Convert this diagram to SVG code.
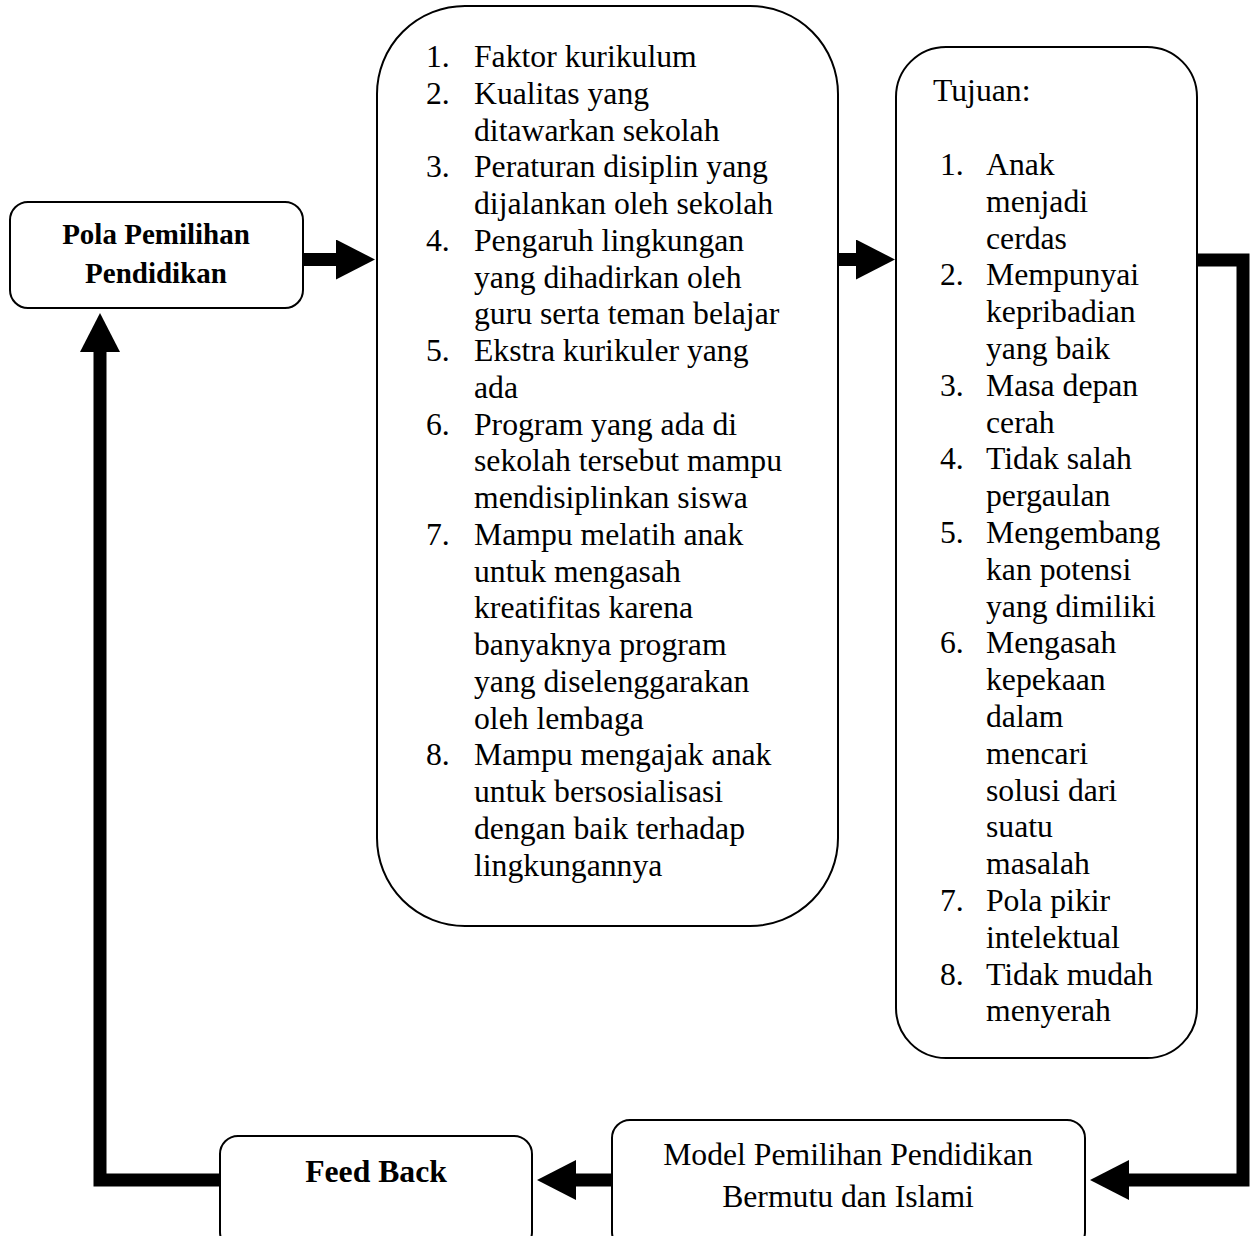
<svg xmlns="http://www.w3.org/2000/svg" width="1257" height="1236" viewBox="0 0 1257 1236">
<style>
.box{fill:#fff;stroke:#000;stroke-width:2}
.t{font-family:"Liberation Serif","Times New Roman",serif;font-size:31.7px;fill:#000}
.b{font-weight:bold}
.c{text-anchor:middle}
.conn{fill:none;stroke:#000;stroke-width:13;stroke-linejoin:miter}
</style>
<defs>
<marker id="ah" viewBox="0 0 39 40" refX="2" refY="20" markerWidth="39" markerHeight="40" markerUnits="userSpaceOnUse" orient="auto">
<path d="M0,0 L39,20 L0,40 z" fill="#000"/>
</marker>
</defs>
<rect width="1257" height="1236" fill="#fff"/>
<g id="connectors">
<path class="conn" d="M303,259.5 H338" marker-end="url(#ah)"/>
<path class="conn" d="M838,259.5 H858" marker-end="url(#ah)"/>
<path class="conn" d="M1197,260 H1243 V1180 H1127" marker-end="url(#ah)"/>
<path class="conn" d="M612,1180 H574" marker-end="url(#ah)"/>
<path class="conn" d="M220,1180 H100 V350" marker-end="url(#ah)"/>
</g>
<g id="pola">
<rect class="box" x="10" y="202" width="293" height="106" rx="18"/>
<text class="t b c" x="156" y="244" style="font-size:29px">Pola Pemilihan</text>
<text class="t b c" x="156" y="283" style="font-size:29px">Pendidikan</text>
</g>
<g id="faktor">
<rect class="box" x="377" y="6" width="461" height="920" rx="88"/>
<text class="t">
<tspan x="426" y="67">1.</tspan><tspan x="474" y="67">Faktor kurikulum</tspan>
<tspan x="426" y="103.75">2.</tspan><tspan x="474" y="103.75">Kualitas yang</tspan>
<tspan x="474" y="140.5">ditawarkan sekolah</tspan>
<tspan x="426" y="177.25">3.</tspan><tspan x="474" y="177.25">Peraturan disiplin yang</tspan>
<tspan x="474" y="214">dijalankan oleh sekolah</tspan>
<tspan x="426" y="250.75">4.</tspan><tspan x="474" y="250.75">Pengaruh lingkungan</tspan>
<tspan x="474" y="287.5">yang dihadirkan oleh</tspan>
<tspan x="474" y="324.25">guru serta teman belajar</tspan>
<tspan x="426" y="361">5.</tspan><tspan x="474" y="361">Ekstra kurikuler yang</tspan>
<tspan x="474" y="397.75">ada</tspan>
<tspan x="426" y="434.5">6.</tspan><tspan x="474" y="434.5">Program yang ada di</tspan>
<tspan x="474" y="471.25">sekolah tersebut mampu</tspan>
<tspan x="474" y="508">mendisiplinkan siswa</tspan>
<tspan x="426" y="544.75">7.</tspan><tspan x="474" y="544.75">Mampu melatih anak</tspan>
<tspan x="474" y="581.5">untuk mengasah</tspan>
<tspan x="474" y="618.25">kreatifitas karena</tspan>
<tspan x="474" y="655">banyaknya program</tspan>
<tspan x="474" y="691.75">yang diselenggarakan</tspan>
<tspan x="474" y="728.5">oleh lembaga</tspan>
<tspan x="426" y="765.25">8.</tspan><tspan x="474" y="765.25">Mampu mengajak anak</tspan>
<tspan x="474" y="802">untuk bersosialisasi</tspan>
<tspan x="474" y="838.75">dengan baik terhadap</tspan>
<tspan x="474" y="875.5">lingkungannya</tspan>
</text>
</g>
<g id="tujuan">
<rect class="box" x="896" y="47" width="301" height="1011" rx="50"/>
<text class="t">
<tspan x="933" y="101">Tujuan:</tspan>
<tspan x="940" y="175">1.</tspan><tspan x="986" y="175">Anak</tspan>
<tspan x="986" y="211.8">menjadi</tspan>
<tspan x="986" y="248.6">cerdas</tspan>
<tspan x="940" y="285.4">2.</tspan><tspan x="986" y="285.4">Mempunyai</tspan>
<tspan x="986" y="322.2">kepribadian</tspan>
<tspan x="986" y="359">yang baik</tspan>
<tspan x="940" y="395.8">3.</tspan><tspan x="986" y="395.8">Masa depan</tspan>
<tspan x="986" y="432.6">cerah</tspan>
<tspan x="940" y="469.4">4.</tspan><tspan x="986" y="469.4">Tidak salah</tspan>
<tspan x="986" y="506.2">pergaulan</tspan>
<tspan x="940" y="543">5.</tspan><tspan x="986" y="543">Mengembang</tspan>
<tspan x="986" y="579.8">kan potensi</tspan>
<tspan x="986" y="616.6">yang dimiliki</tspan>
<tspan x="940" y="653.4">6.</tspan><tspan x="986" y="653.4">Mengasah</tspan>
<tspan x="986" y="690.2">kepekaan</tspan>
<tspan x="986" y="727">dalam</tspan>
<tspan x="986" y="763.8">mencari</tspan>
<tspan x="986" y="800.6">solusi dari</tspan>
<tspan x="986" y="837.4">suatu</tspan>
<tspan x="986" y="874.2">masalah</tspan>
<tspan x="940" y="911">7.</tspan><tspan x="986" y="911">Pola pikir</tspan>
<tspan x="986" y="947.8">intelektual</tspan>
<tspan x="940" y="984.6">8.</tspan><tspan x="986" y="984.6">Tidak mudah</tspan>
<tspan x="986" y="1021.4">menyerah</tspan>
</text>
</g>
<g id="model">
<rect class="box" x="612" y="1120" width="473" height="130" rx="18"/>
<text class="t c" x="848" y="1165">Model Pemilihan Pendidikan</text>
<text class="t c" x="848" y="1207">Bermutu dan Islami</text>
</g>
<g id="feedback">
<rect class="box" x="220" y="1136" width="312" height="114" rx="18"/>
<text class="t b c" x="376" y="1182">Feed Back</text>
</g>
</svg>
